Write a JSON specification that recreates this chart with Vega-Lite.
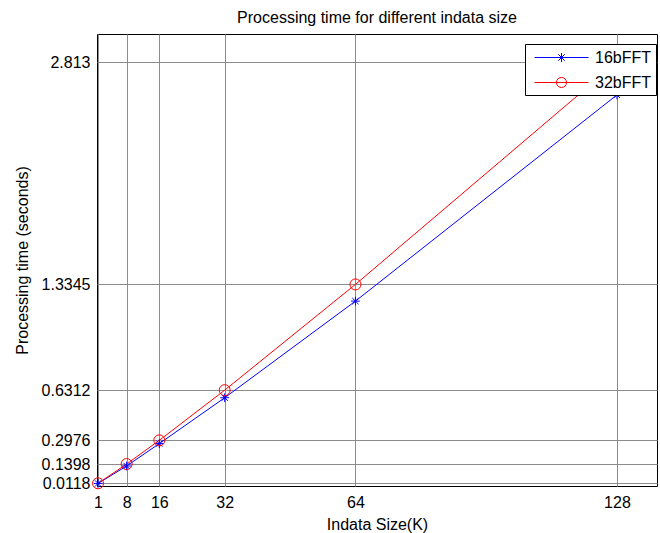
{
  "$schema": "https://vega.github.io/schema/vega-lite/v6.json",
  "width": 560,
  "height": 452,
  "autosize": {"type": "none"},
  "padding": {"left": 97, "top": 34, "right": 3, "bottom": 47},
  "background": "white",
  "title": {"text": "Processing time for different indata size", "fontSize": 16, "fontWeight": "normal", "font": "Liberation Sans", "color": "black", "offset": 8, "frame": "group", "anchor": "middle"},
  "data": {"values": [
    {"size": 1, "time": 0.0110, "series": "16bFFT"},
    {"size": 8, "time": 0.127, "series": "16bFFT"},
    {"size": 16, "time": 0.276, "series": "16bFFT"},
    {"size": 32, "time": 0.581, "series": "16bFFT"},
    {"size": 64, "time": 1.2235, "series": "16bFFT"},
    {"size": 128, "time": 2.595, "series": "16bFFT"},
    {"size": 1, "time": 0.0118, "series": "32bFFT"},
    {"size": 8, "time": 0.1398, "series": "32bFFT"},
    {"size": 16, "time": 0.2976, "series": "32bFFT"},
    {"size": 32, "time": 0.6312, "series": "32bFFT"},
    {"size": 64, "time": 1.3345, "series": "32bFFT"},
    {"size": 128, "time": 2.813, "series": "32bFFT"}
  ]},
  "encoding": {
    "x": {"field": "size", "type": "quantitative", "scale": {"domain": [0.75, 137.8], "nice": false, "zero": false},
      "axis": {"values": [1, 8, 16, 32, 64, 128], "labelExpr": "'' + datum.value", "title": "Indata Size(K)", "labelPadding": 8, "titlePadding": 6}},
    "y": {"field": "time", "type": "quantitative", "scale": {"domain": [-0.006, 3.0], "nice": false, "zero": false},
      "axis": {"values": [0.0118, 0.1398, 0.2976, 0.6312, 1.3345, 2.813], "labelExpr": "'' + datum.value", "title": "Processing time (seconds)", "labelPadding": 7, "titlePadding": 11}},
    "color": {"field": "series", "type": "nominal", "scale": {"domain": ["16bFFT", "32bFFT"], "range": ["#0000ff", "#ff0000"]},
      "legend": {"orient": "none", "legendX": 428, "legendY": 10, "title": null, "strokeColor": "black", "fillColor": "white", "padding": 4,
        "symbolSize": 324, "symbolOffset": 23, "labelOffset": 24, "labelFontSize": 16, "labelFont": "Liberation Sans", "labelColor": "black",
        "rowPadding": 7, "symbolStrokeWidth": 1, "labelLimit": 0, "cornerRadius": 0,
        "encode": {"symbols": {"update": {
          "shape": {"signal": "datum.value === '16bFFT' ? 'M-3,0H3M0,-0.5V0.5M-0.5,0H0.5M-0.36,-0.36L0.36,0.36M-0.36,0.36L0.36,-0.36' : 'M-3,0H3M0.56,0A0.56,0.56 0 1,1 -0.56,0A0.56,0.56 0 1,1 0.56,0'"},
          "fill": {"value": "transparent"},
          "strokeWidth": {"value": 1}
        }}}}}
  },
  "layer": [
    {"mark": {"type": "line", "strokeWidth": 1}},
    {"transform": [{"filter": "datum.series === '16bFFT'"}],
      "mark": {"type": "point", "filled": false, "size": 121, "strokeWidth": 1, "opacity": 1, "shape": "M0,-0.8V0.8M-0.8,0H0.8M-0.57,-0.57L0.57,0.57M-0.57,0.57L0.57,-0.57"}},
    {"transform": [{"filter": "datum.series === '32bFFT'"}],
      "mark": {"type": "point", "filled": false, "size": 121, "strokeWidth": 1, "opacity": 1, "shape": "circle"}}
  ],
  "config": {
    "font": "Liberation Sans",
    "view": {"stroke": "black", "strokeWidth": 1},
    "axis": {"domain": false, "ticks": false, "grid": true, "gridColor": "#8c8c8c", "gridWidth": 1, "gridOpacity": 1,
      "labelFontSize": 16, "labelColor": "black", "labelFont": "Liberation Sans", "titleFontSize": 16, "titleFontWeight": "normal", "titleColor": "black", "titleFont": "Liberation Sans"}
  }
}
